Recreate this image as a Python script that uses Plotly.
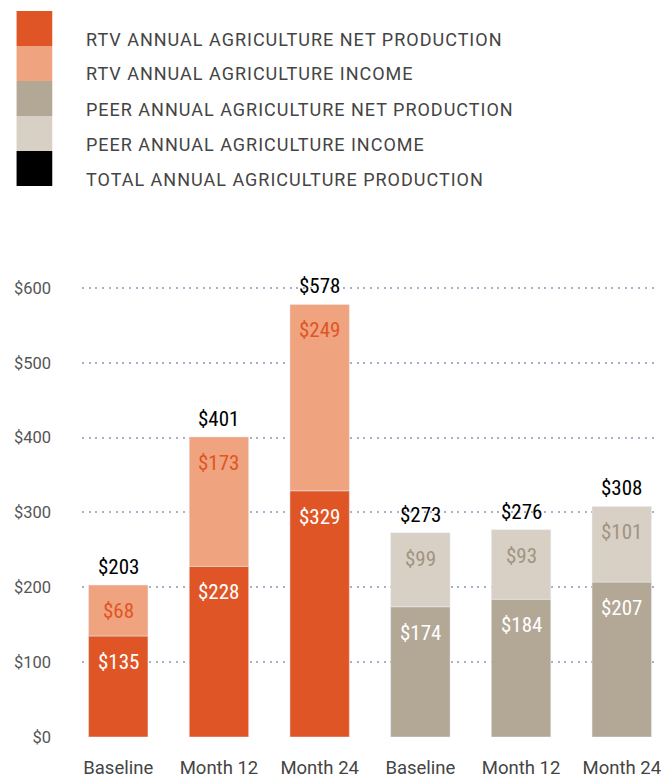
import plotly.graph_objects as go

categories = ["Baseline", "Month 12", "Month 24", "Baseline", "Month 12", "Month 24"]
rtv_net = [135, 228, 329]
rtv_income = [68, 173, 249]
rtv_total = [203, 401, 578]
peer_net = [174, 184, 207]
peer_income = [99, 93, 101]
peer_total = [273, 276, 308]
y_ticks = [0, 100, 200, 300, 400, 500, 600]

legend_labels = [
    "RTV ANNUAL AGRICULTURE NET PRODUCTION",
    "RTV ANNUAL AGRICULTURE INCOME",
    "PEER ANNUAL AGRICULTURE NET PRODUCTION",
    "PEER ANNUAL AGRICULTURE INCOME",
    "TOTAL ANNUAL AGRICULTURE PRODUCTION",
]

C_RTV_NET = "#E05526"
C_RTV_INC = "#EFA37E"
C_PEER_NET = "#B3A796"
C_PEER_INC = "#D8D0C4"
legend_colors = [C_RTV_NET, C_RTV_INC, C_PEER_NET, C_PEER_INC, "#000000"]

NUM_FONT = "Roboto Condensed, Roboto, sans-serif"
TXT_FONT = "Roboto, sans-serif"

rtv_x = [0, 1, 2]
peer_x = [3, 4, 5]
bar_w = 0.59

fig = go.Figure()
fig.add_trace(go.Bar(x=rtv_x, y=rtv_net, marker_color=C_RTV_NET, width=bar_w, hoverinfo="skip"))
fig.add_trace(go.Bar(x=rtv_x, y=rtv_income, base=rtv_net, marker_color=C_RTV_INC, width=bar_w, hoverinfo="skip"))
fig.add_trace(go.Bar(x=peer_x, y=peer_net, marker_color=C_PEER_NET, width=bar_w, hoverinfo="skip"))
fig.add_trace(go.Bar(x=peer_x, y=peer_income, base=peer_net, marker_color=C_PEER_INC, width=bar_w, hoverinfo="skip"))

annotations = []


def seg_label(x, top, value, color):
    annotations.append(dict(
        x=x, y=top, xref="x", yref="y", text=f"${value}", showarrow=False,
        yanchor="middle", yshift=-26,
        font=dict(family=NUM_FONT, size=21, color=color),
    ))


def total_label(x, total):
    annotations.append(dict(
        x=x, y=total, xref="x", yref="y", text=f"${total}", showarrow=False,
        yanchor="bottom", yshift=4,
        font=dict(family=NUM_FONT, size=21, color="#000000"),
    ))


for x, n, i, t in zip(rtv_x, rtv_net, rtv_income, rtv_total):
    seg_label(x, n, n, "#FFFFFF")
    seg_label(x, n + i, i, C_RTV_NET)
    total_label(x, t)
for x, n, i, t in zip(peer_x, peer_net, peer_income, peer_total):
    seg_label(x, n, n, "#FFFFFF")
    seg_label(x, n + i, i, "#A09482")
    total_label(x, t)

# Legend: stacked colour blocks with labels beside them
shapes = []
PLOT_TOP, PLOT_BOTTOM, PLOT_LEFT, PLOT_W = 270.0, 737.0, 82.0, 579.0
sq_top = 11
sq_h = 35
legend_start = len(annotations)
for k, (lab, col) in enumerate(zip(legend_labels, legend_colors)):
    y0 = sq_top + k * sq_h
    shapes.append(dict(
        type="rect", xref="paper", yref="paper",
        x0=(16 - PLOT_LEFT) / PLOT_W, x1=(52 - PLOT_LEFT) / PLOT_W,
        y0=(PLOT_BOTTOM - (y0 + sq_h)) / (PLOT_BOTTOM - PLOT_TOP),
        y1=(PLOT_BOTTOM - y0) / (PLOT_BOTTOM - PLOT_TOP),
        fillcolor=col, line=dict(width=0), layer="above",
    ))
    annotations.append(dict(
        xref="paper", yref="paper",
        x=(84 - PLOT_LEFT) / PLOT_W, y=(PLOT_BOTTOM - (y0 + 28)) / (PLOT_BOTTOM - PLOT_TOP),
        xanchor="left", yanchor="middle", align="left", showarrow=False, text=lab,
        font=dict(family=TXT_FONT, size=18, color="#444444"),
    ))

fig.update_layout(
    width=661, height=779,
    margin=dict(l=82, r=0, t=270, b=42),
    paper_bgcolor="white", plot_bgcolor="white",
    barmode="overlay", showlegend=False,
    annotations=annotations, shapes=shapes,
    xaxis=dict(
        range=[-0.36, 5.34], tickvals=list(range(6)), ticktext=categories,
        showgrid=False, zeroline=False, showline=False, ticks="",
        ticklabelstandoff=17, ticklabeloverflow="allow",
        tickfont=dict(family=TXT_FONT, size=18.5, color="#444444"),
    ),
    yaxis=dict(
        range=[0, 624], tickvals=y_ticks, ticktext=[f"${v}" for v in y_ticks],
        showgrid=True, gridcolor="#A9AECB", griddash="2px,4.7px", gridwidth=1.5,
        zeroline=False, showline=False, ticks="",
        ticklabelstandoff=30,
        tickfont=dict(family=TXT_FONT, size=16.5, color="#555555"),
    ),
)

# Widen the tracking of the legend captions
legend_idx = list(range(legend_start, legend_start + len(legend_labels)))
post_js = (
    "var gd = document.getElementById('{plot_id}');"
    "var idx = " + str(legend_idx) + ";"
    "idx.forEach(function(i){"
    "  var t = gd.querySelector('g.annotation[data-index=\"' + i + '\"] text.annotation-text');"
    "  if (t) { t.style.letterSpacing = '1px'; }"
    "});"
)

fig.write_html("out.html", post_script=post_js)
